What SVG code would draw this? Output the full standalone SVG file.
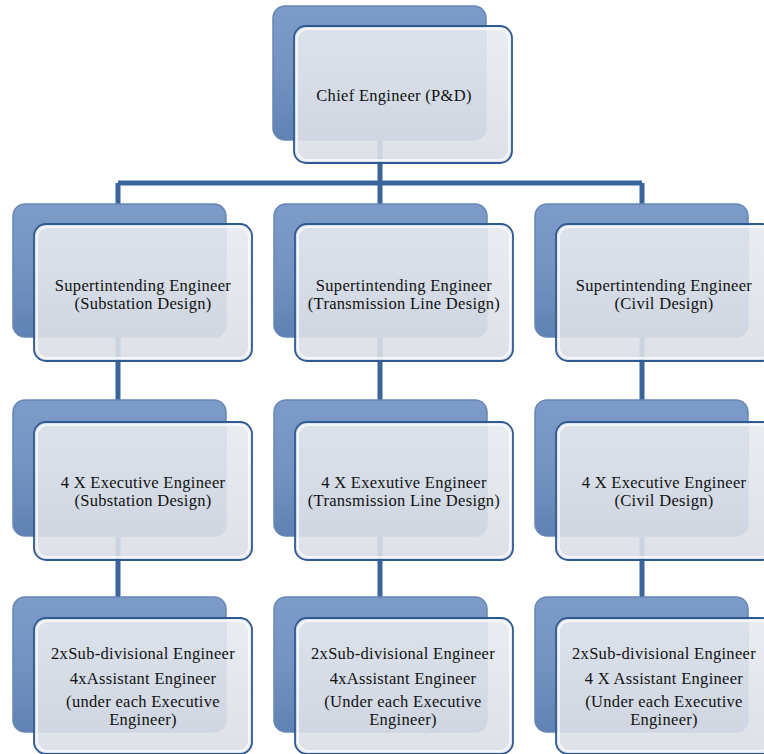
<svg xmlns="http://www.w3.org/2000/svg" width="764" height="754" viewBox="0 0 764 754">
<defs>
<linearGradient id="gBack" x1="0" y1="0" x2="0" y2="1">
<stop offset="0" stop-color="#7c9bc8"/>
<stop offset="0.5" stop-color="#7493c1"/>
<stop offset="1" stop-color="#5f82b4"/>
</linearGradient>
<linearGradient id="gFront" x1="0" y1="0" x2="0" y2="1">
<stop offset="0" stop-color="#e7eaef"/>
<stop offset="1" stop-color="#dadee5"/>
</linearGradient>
</defs>
<style>
.back{fill:url(#gBack);stroke:#6786b3;stroke-width:1.5}
.front{fill:url(#gFront);fill-opacity:0.9;stroke:#2f5a91;stroke-width:1.8}
.inner{fill:none;stroke:#ffffff;stroke-opacity:0.7;stroke-width:2}
.con{stroke:#3a659b;stroke-width:5;fill:none}
text{font-family:"Liberation Serif","Times New Roman",serif;font-size:16.5px;letter-spacing:0.3px;fill:#111;text-anchor:middle}
</style>
<rect width="764" height="754" fill="#ffffff"/>
<g id="connectors">
<path class="con" d="M380 100V183M118 183H642M118 183V210M380 183V210M642 183V210"/>
<path class="con" d="M118 300V405M380 300V405M642 300V405"/>
<path class="con" d="M118 500V602M380 500V602M642 500V602"/>
</g>
<g id="chief">
<rect class="back" x="273" y="6" width="213" height="134" rx="12"/>
<rect class="front" x="294" y="26" width="218" height="137" rx="12"/>
<rect class="inner" x="297" y="29" width="212" height="131" rx="10"/>
<text x="394" y="101">Chief Engineer (P&amp;D)</text>
</g>
<g id="se-substation">
<rect class="back" x="13" y="204" width="213" height="133" rx="12"/>
<rect class="front" x="34" y="224" width="218" height="137" rx="12"/>
<rect class="inner" x="37" y="227" width="212" height="131" rx="10"/>
<text x="143" y="291">Supertintending Engineer</text>
<text x="143" y="309">(Substation Design)</text>
</g>
<g id="se-transmission">
<rect class="back" x="274" y="204" width="213" height="133" rx="12"/>
<rect class="front" x="295" y="224" width="218" height="137" rx="12"/>
<rect class="inner" x="298" y="227" width="212" height="131" rx="10"/>
<text x="404" y="291">Supertintending Engineer</text>
<text x="404" y="309">(Transmission Line Design)</text>
</g>
<g id="se-civil">
<rect class="back" x="535" y="204" width="213" height="133" rx="12"/>
<rect class="front" x="556" y="224" width="218" height="137" rx="12"/>
<rect class="inner" x="559" y="227" width="212" height="131" rx="10"/>
<text x="664" y="291">Supertintending Engineer</text>
<text x="664" y="309">(Civil Design)</text>
</g>
<g id="ee-substation">
<rect class="back" x="13" y="400" width="213" height="136" rx="12"/>
<rect class="front" x="34" y="422" width="218" height="138" rx="12"/>
<rect class="inner" x="37" y="425" width="212" height="132" rx="10"/>
<text x="143" y="488">4 X Executive Engineer</text>
<text x="143" y="506">(Substation Design)</text>
</g>
<g id="ee-transmission">
<rect class="back" x="274" y="400" width="213" height="136" rx="12"/>
<rect class="front" x="295" y="422" width="218" height="138" rx="12"/>
<rect class="inner" x="298" y="425" width="212" height="132" rx="10"/>
<text x="404" y="488">4 X Exexutive Engineer</text>
<text x="404" y="506">(Transmission Line Design)</text>
</g>
<g id="ee-civil">
<rect class="back" x="535" y="400" width="213" height="136" rx="12"/>
<rect class="front" x="556" y="422" width="218" height="138" rx="12"/>
<rect class="inner" x="559" y="425" width="212" height="132" rx="10"/>
<text x="664" y="488">4 X Executive Engineer</text>
<text x="664" y="506">(Civil Design)</text>
</g>
<g id="ae-substation">
<rect class="back" x="13" y="597" width="213" height="135" rx="12"/>
<rect class="front" x="34" y="618" width="218" height="136" rx="12"/>
<rect class="inner" x="37" y="621" width="212" height="130" rx="10"/>
<text x="143" y="659">2xSub-divisional Engineer</text>
<text x="143" y="684">4xAssistant Engineer</text>
<text x="143" y="707">(under each Executive</text>
<text x="143" y="725">Engineer)</text>
</g>
<g id="ae-transmission">
<rect class="back" x="274" y="597" width="213" height="135" rx="12"/>
<rect class="front" x="295" y="618" width="218" height="136" rx="12"/>
<rect class="inner" x="298" y="621" width="212" height="130" rx="10"/>
<text x="403" y="659">2xSub-divisional Engineer</text>
<text x="403" y="684">4xAssistant Engineer</text>
<text x="403" y="707">(Under each Executive</text>
<text x="403" y="725">Engineer)</text>
</g>
<g id="ae-civil">
<rect class="back" x="535" y="597" width="213" height="135" rx="12"/>
<rect class="front" x="556" y="618" width="218" height="136" rx="12"/>
<rect class="inner" x="559" y="621" width="212" height="130" rx="10"/>
<text x="664" y="659">2xSub-divisional Engineer</text>
<text x="664" y="684">4 X Assistant Engineer</text>
<text x="664" y="707">(Under each Executive</text>
<text x="664" y="725">Engineer)</text>
</g>
</svg>
